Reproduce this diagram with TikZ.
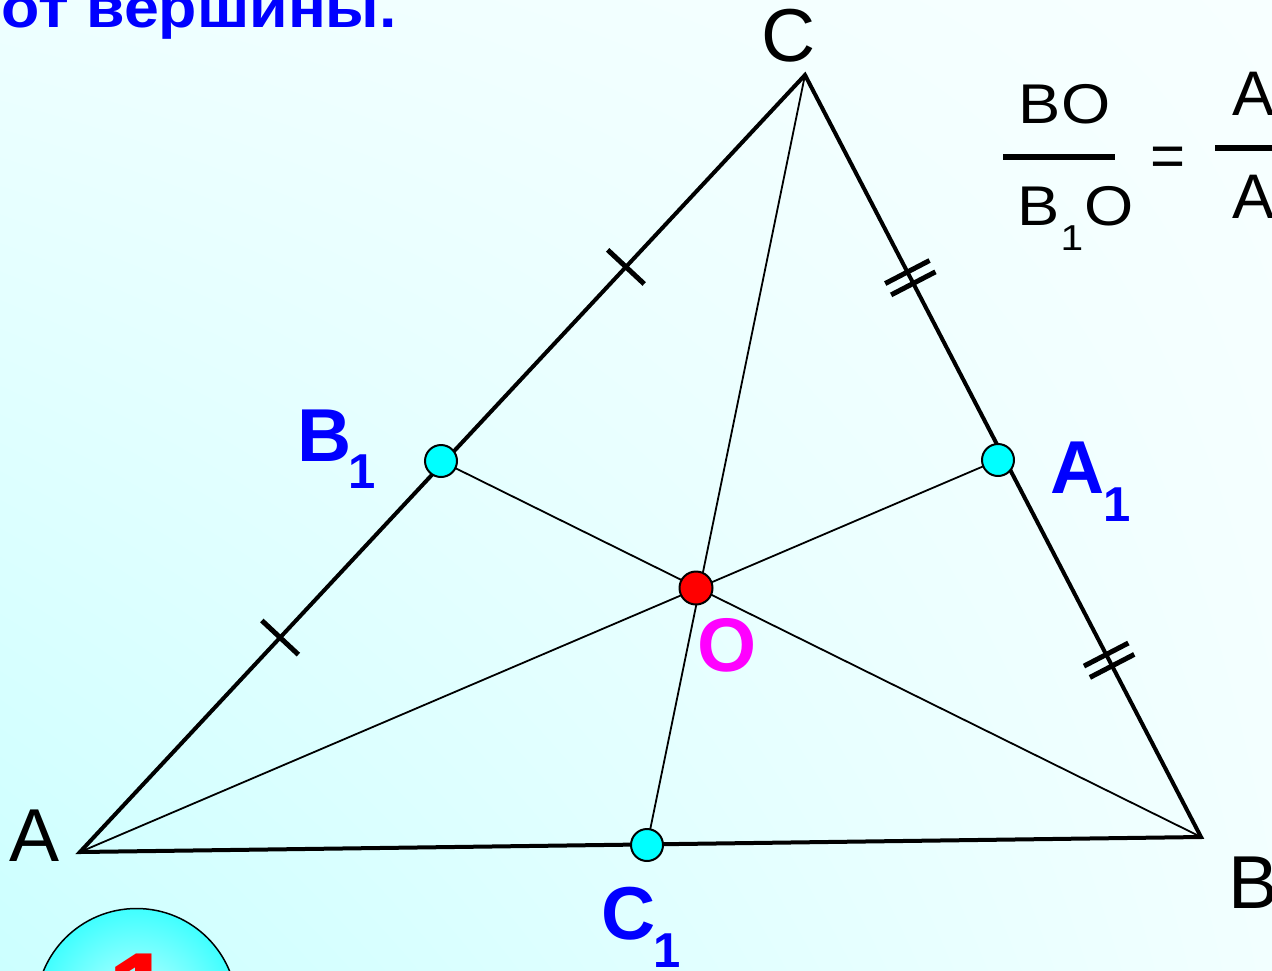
\documentclass[tikz,border=0pt]{standalone}
\usepackage{fontspec}
\setmainfont{Liberation Sans}
\usetikzlibrary{calc,shadings}
\definecolor{bgUL}{RGB}{238,255,255}
\definecolor{bgUR}{RGB}{247,255,255}
\definecolor{bgLL}{RGB}{204,255,255}
\definecolor{bgLR}{RGB}{242,255,255}
\definecolor{ptcyan}{RGB}{0,255,255}
\definecolor{ptred}{RGB}{255,0,0}
\definecolor{lblblue}{RGB}{0,0,255}
\definecolor{lblmag}{RGB}{255,0,255}
\definecolor{badgeout}{RGB}{64,255,255}
\definecolor{badgein}{RGB}{200,255,255}
\newcommand\subnum[2]{\raisebox{-#1pt}{\fontsize{49}{49}\selectfont #2}}
\newcommand\wide[1]{\scalebox{1.13}[1]{#1}}
\begin{document}
\begin{tikzpicture}[x=1pt,y=-1pt,
  side/.style={line width=4pt},
  median/.style={line width=1.8pt},
  tickmark/.style={line width=5pt},
  midpt/.style={circle,draw=black,line width=2pt,fill=ptcyan,minimum size=32pt,inner sep=0pt},
  centpt/.style={circle,draw=black,line width=2pt,fill=ptred,minimum size=33pt,inner sep=0pt},
  vlbl/.style={inner sep=0pt,font=\fontsize{75}{75}\selectfont},
  blbl/.style={inner sep=0pt,text=lblblue,font=\fontsize{75}{75}\selectfont\bfseries},
  flbl/.style={inner sep=0pt,font=\fontsize{56}{56}\selectfont}
]
\useasboundingbox (0,0) rectangle (1272,970);
\clip (0,0) rectangle (1272,970);
\shade[upper left=bgUL,upper right=bgUR,lower left=bgLL,lower right=bgLR] (0,0) rectangle (1272,970);

% title fragment
\node[inner sep=0pt,anchor=base east,text=lblblue,font=\fontsize{57}{57}\selectfont\bfseries] (title) at (397,27) {\scalebox{1.1}[1]{от вершины.}};

% vertices
\coordinate (A) at (80,852);
\coordinate (B) at (1201,837);
\coordinate (C) at (805,75);
\coordinate (A1) at (998,460);
\coordinate (B1) at (441,461);
\coordinate (C1) at (647,845);
\coordinate (O) at (696,588);

% medians
\draw[median] (A) -- (A1);
\draw[median] (B) -- (B1);
\draw[median] (C) -- (C1);

% sides
\draw[side] (A) -- (B) -- (C) -- cycle;

% single ticks on AC
\coordinate (s1) at ($(A)!0.276!(C)$);
\coordinate (s2) at ($(A)!0.753!(C)$);
\draw[tickmark] ($(s1)!25pt!90:(C)$) -- ($(s1)!25pt!-90:(C)$);
\draw[tickmark] ($(s2)!25pt!90:(C)$) -- ($(s2)!25pt!-90:(C)$);

% double ticks on CB
\coordinate (d1) at ($(C)!0.266!(B)$);
\coordinate (d2) at ($(C)!0.768!(B)$);
\coordinate (d1a) at ($(d1)!6.4pt!(B)$);
\coordinate (d1b) at ($(d1)!-6.4pt!(B)$);
\coordinate (d2a) at ($(d2)!6.4pt!(B)$);
\coordinate (d2b) at ($(d2)!-6.4pt!(B)$);
\draw[tickmark] ($(d1a)!25pt!90:(B)$) -- ($(d1a)!25pt!-90:(B)$);
\draw[tickmark] ($(d1b)!25pt!90:(B)$) -- ($(d1b)!25pt!-90:(B)$);
\draw[tickmark] ($(d2a)!25pt!90:(B)$) -- ($(d2a)!25pt!-90:(B)$);
\draw[tickmark] ($(d2b)!25pt!90:(B)$) -- ($(d2b)!25pt!-90:(B)$);

% points
\node[midpt] (pA1) at (A1) {};
\node[midpt] (pB1) at (B1) {};
\node[midpt] (pC1) at (C1) {};
\node[centpt] (pO) at (O) {};

% vertex labels
\node[vlbl,anchor=base] (lC) at (789,61) {C};
\node[vlbl,anchor=base] (lA) at (35,861) {A};
\node[vlbl,anchor=base] (lB) at (1253,908) {B};
\node[blbl,anchor=base west] (lB1) at (297.5,461) {B\kern-3pt\subnum{27}{1}};
\node[blbl,anchor=base west] (lA1) at (1050,493) {A\kern-1pt\subnum{28}{1}};
\node[blbl,anchor=base west] (lC1) at (601.5,939) {C\kern-2pt\subnum{28}{1}};
\node[inner sep=0pt,anchor=base,text=lblmag,font=\fontsize{76}{76}\selectfont\bfseries] (lO) at (727,671) {O};

% ratio
\node[flbl,anchor=base] (fBO) at (1064.5,123) {\wide{BO}};
\draw[line width=6pt] (1003,157) -- (1115,157);
\node[flbl,anchor=base west] (fB1O) at (1017,225) {\wide{B\kern1pt\raisebox{-25pt}{\fontsize{36}{36}\selectfont 1}\kern1pt O}};
\node[inner sep=0pt,anchor=base,font=\fontsize{60}{60}\selectfont] (feq) at (1168,176) {=};
\draw[line width=6pt] (1215,148) -- (1280,148);
\node[inner sep=0pt,anchor=base west,font=\fontsize{63}{63}\selectfont] (fA) at (1232,115) {A};
\node[inner sep=0pt,anchor=base west,font=\fontsize{63}{63}\selectfont] (fA2) at (1232,218) {A};

% badge
\node[circle,draw=black,line width=1.5pt,inner color=badgein,outer color=badgeout,minimum size=201pt,inner sep=0pt] (badge) at (136.5,1009) {};
\node[inner sep=0pt,anchor=base,text=ptred,font=\fontsize{120}{120}\selectfont\bfseries] (num) at (140.5,1036) {1};
\end{tikzpicture}
\end{document}
